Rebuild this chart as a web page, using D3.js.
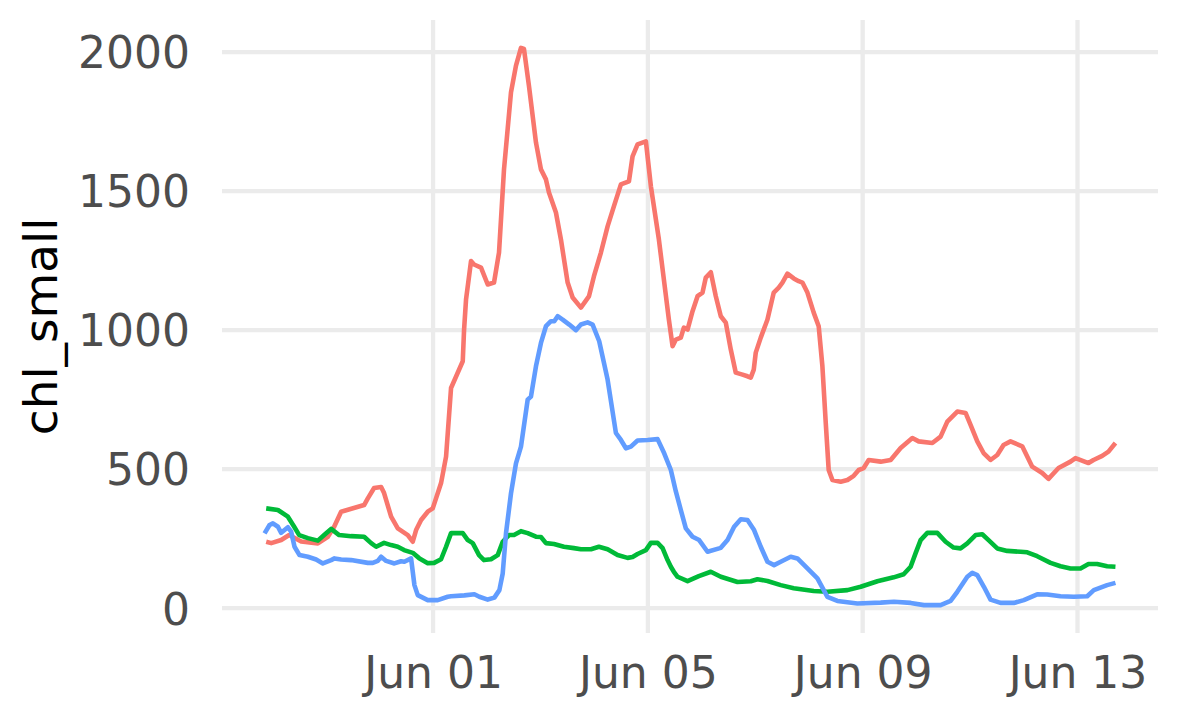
<!DOCTYPE html>
<html>
<head>
<meta charset="utf-8">
<script src="https://cdn.jsdelivr.net/npm/d3@7"></script>
<style>
  html, body { margin: 0; padding: 0; background: #ffffff; }
  svg { display: block; font-family: "DejaVu Sans", sans-serif; }
</style>
</head>
<body>
<svg id="chart" width="1200" height="720"></svg>
<script>
// Time is given as days offset from Jun 01 (2021), value is chl_small.
const baseDate = Date.UTC(2021, 5, 1);

const redSeries = [
  [-3.107,239],[-3.014,234],[-2.828,245],[-2.679,263],[-2.456,240],[-2.145,233],[-1.959,257],
  [-1.842,293],[-1.712,347],[-1.284,371],[-1.215,395],[-1.098,432],[-0.967,436],[-0.912,414],
  [-0.781,329],[-0.657,287],[-0.471,263],[-0.378,239],[-0.316,281],[-0.223,317],[-0.099,347],
  [-0.006,359],[0.117,431],[0.149,450],[0.242,545],[0.335,792],[0.553,888],[0.577,1000],
  [0.614,1110],[0.707,1248],[0.763,1236],[0.893,1225],[1.018,1164],[1.135,1171],[1.228,1279],
  [1.321,1578],[1.451,1855],[1.544,1951],[1.637,2015],[1.693,2011],[1.786,1878],[1.916,1675],
  [2.009,1578],[2.102,1542],[2.158,1495],[2.288,1423],[2.381,1326],[2.506,1171],[2.599,1117],
  [2.753,1081],[2.902,1121],[2.995,1193],[3.126,1279],[3.250,1373],[3.367,1445],[3.498,1524],
  [3.647,1535],[3.715,1625],[3.808,1668],[3.963,1679],[4.056,1517],[4.205,1326],[4.298,1182],
  [4.391,1038],[4.460,942],[4.521,966],[4.614,973],[4.670,1009],[4.739,1002],[4.832,1068],
  [4.925,1122],[5.018,1135],[5.079,1189],[5.172,1208],[5.265,1122],[5.358,1050],[5.451,1027],
  [5.544,930],[5.637,847],[5.762,840],[5.855,834],[5.916,829],[5.972,858],[6.009,919],
  [6.102,973],[6.227,1038],[6.344,1135],[6.437,1153],[6.506,1171],[6.599,1203],[6.716,1186],
  [6.809,1176],[6.878,1171],[6.971,1135],[7.088,1063],[7.181,1014],[7.250,870],[7.312,667],
  [7.367,497],[7.436,461],[7.591,455],[7.716,461],[7.833,476],[7.926,497],[8.019,504],
  [8.112,533],[8.335,527],[8.521,533],[8.707,576],[8.925,612],[9.042,600],[9.297,594],
  [9.451,617],[9.576,671],[9.762,707],[9.916,702],[10.009,659],[10.134,600],[10.251,558],
  [10.381,533],[10.506,551],[10.623,587],[10.753,600],[10.971,582],[11.157,509],[11.343,486],
  [11.460,465],[11.647,504],[11.870,527],[11.963,540],[12.205,522],[12.298,533],[12.460,548],
  [12.577,563],[12.707,594]
];

const greenSeries = [
  [-3.107,359],[-2.889,353],[-2.703,329],[-2.586,293],[-2.493,263],[-2.331,252],[-2.145,243],
  [-2.028,263],[-1.898,285],[-1.749,263],[-1.526,259],[-1.284,257],[-1.153,234],[-1.060,221],
  [-0.912,235],[-0.781,227],[-0.657,221],[-0.540,209],[-0.378,199],[-0.260,180],[-0.099,162],
  [0.019,163],[0.149,176],[0.242,221],[0.335,270],[0.553,270],[0.646,245],[0.739,234],
  [0.856,191],[0.949,173],[1.079,176],[1.204,191],[1.297,239],[1.414,263],[1.507,263],
  [1.637,277],[1.762,270],[1.916,257],[2.009,256],[2.102,234],[2.251,231],[2.437,221],
  [2.623,216],[2.753,212],[2.940,212],[3.088,221],[3.250,212],[3.436,191],[3.622,181],
  [3.715,184],[3.808,195],[3.963,209],[4.056,235],[4.181,235],[4.274,216],[4.367,173],
  [4.428,149],[4.484,131],[4.553,113],[4.739,97],[4.949,115],[5.172,131],[5.358,113],
  [5.669,94],[5.916,97],[6.040,104],[6.227,98],[6.474,83],[6.716,72],[7.088,62],[7.343,59],
  [7.716,65],[7.963,77],[8.274,97],[8.577,111],[8.763,122],[8.893,149],[8.986,198],[9.079,245],
  [9.204,271],[9.390,271],[9.544,239],[9.693,218],[9.823,215],[9.948,233],[10.102,263],
  [10.227,266],[10.344,245],[10.506,215],[10.692,206],[10.940,203],[11.064,201],[11.250,187],
  [11.498,163],[11.684,151],[11.870,143],[12.056,143],[12.205,159],[12.366,159],[12.552,151],
  [12.707,149]
];

const blueSeries = [
  [-3.138,269],[-3.045,299],[-2.982,305],[-2.889,293],[-2.828,271],[-2.766,281],[-2.703,291],
  [-2.642,275],[-2.580,221],[-2.487,191],[-2.331,185],[-2.177,175],[-2.052,161],[-1.898,173],
  [-1.836,179],[-1.712,175],[-1.526,173],[-1.215,163],[-1.122,163],[-1.029,170],[-0.967,185],
  [-0.874,170],[-0.720,161],[-0.595,169],[-0.534,167],[-0.409,179],[-0.347,83],[-0.285,47],
  [-0.099,29],[0.087,29],[0.273,41],[0.335,43],[0.583,46],[0.769,50],[0.862,41],[1.018,31],
  [1.142,38],[1.235,65],[1.297,125],[1.358,269],[1.451,413],[1.544,521],[1.637,581],[1.762,750],
  [1.823,761],[1.916,870],[2.009,954],[2.102,1014],[2.195,1032],[2.257,1032],[2.320,1050],
  [2.413,1038],[2.536,1020],[2.660,1000],[2.753,1020],[2.878,1028],[2.971,1020],[3.094,960],
  [3.250,822],[3.405,630],[3.498,605],[3.591,575],[3.684,581],[3.808,603],[3.994,605],
  [4.181,608],[4.304,557],[4.428,497],[4.521,420],[4.614,353],[4.707,287],[4.832,257],
  [4.955,245],[5.111,203],[5.358,217],[5.483,245],[5.606,293],[5.730,320],[5.855,317],
  [5.978,281],[6.102,221],[6.227,167],[6.350,155],[6.474,167],[6.660,185],[6.785,179],
  [6.971,143],[7.157,107],[7.343,41],[7.529,26],[7.901,17],[8.335,20],[8.583,23],[8.893,19],
  [9.141,11],[9.451,11],[9.637,26],[9.762,59],[9.948,113],[10.041,127],[10.134,119],
  [10.257,77],[10.381,31],[10.567,19],[10.815,19],[11.001,29],[11.250,50],[11.436,49],
  [11.684,43],[11.932,41],[12.181,43],[12.304,65],[12.552,83],[12.707,91]
];

const seriesList = [
  { name: "red", color: "#F8766D", pts: redSeries },
  { name: "green", color: "#00BA38", pts: greenSeries },
  { name: "blue", color: "#619CFF", pts: blueSeries }
];

const yTicks = [0, 500, 1000, 1500, 2000];
const xTickDays = [0, 4, 8, 12];
const yTitle = "chl_small";

const toDate = d => new Date(baseDate + d * 86400000);

const svg = d3.select("#chart");
const panel = { left: 222, right: 1158, top: 20, bottom: 633 };

// ggplot-like 5% expansion of data ranges
const allPts = seriesList.flatMap(s => s.pts);
const xExt = d3.extent(allPts, p => p[0]);
const yExt = d3.extent(allPts, p => p[1]);
const xPad = (xExt[1] - xExt[0]) * 0.05;
const yPad = (yExt[1] - yExt[0]) * 0.05;

const x = d3.scaleUtc()
  .domain([toDate(xExt[0] - xPad), toDate(xExt[1] + xPad)])
  .range([panel.left, panel.right]);
const y = d3.scaleLinear()
  .domain([yExt[0] - yPad, yExt[1] + yPad])
  .range([panel.bottom, panel.top]);

// gridlines
const grid = svg.append("g");
grid.selectAll("line.h").data(yTicks).enter().append("line")
  .attr("x1", panel.left).attr("x2", panel.right)
  .attr("y1", d => y(d)).attr("y2", d => y(d))
  .attr("stroke", "#EBEBEB").attr("stroke-width", 4.3);
grid.selectAll("line.v").data(xTickDays).enter().append("line")
  .attr("y1", panel.top).attr("y2", panel.bottom)
  .attr("x1", d => x(toDate(d))).attr("x2", d => x(toDate(d)))
  .attr("stroke", "#EBEBEB").attr("stroke-width", 4.3);

// lines
const line = d3.line()
  .x(p => x(toDate(p[0])))
  .y(p => y(p[1]))
  .curve(d3.curveLinear);

svg.append("g").selectAll("path").data(seriesList).enter().append("path")
  .attr("d", s => line(s.pts))
  .attr("fill", "none")
  .attr("stroke", s => s.color)
  .attr("stroke-width", 4.6)
  .attr("stroke-linejoin", "round")
  .attr("stroke-linecap", "butt");

// y axis labels
const yAxis = d3.axisLeft(y).tickValues(yTicks).tickFormat(d3.format("d")).tickSize(0).tickPadding(0);
const yg = svg.append("g").attr("transform", `translate(190,0)`).call(yAxis);
yg.select(".domain").remove();
yg.selectAll("text")
  .attr("fill", "#4D4D4D")
  .attr("font-size", 44)
  .attr("font-family", "DejaVu Sans")
  .attr("x", 0)
  .attr("dy", "0.36em");

// x axis labels
const fmt = d3.utcFormat("%b %d");
const xAxis = d3.axisBottom(x).tickValues(xTickDays.map(toDate)).tickFormat(fmt).tickSize(0).tickPadding(0);
const xg = svg.append("g").attr("transform", `translate(0,656)`).call(xAxis);
xg.select(".domain").remove();
xg.selectAll("text")
  .attr("fill", "#4D4D4D")
  .attr("font-size", 44)
  .attr("font-family", "DejaVu Sans")
  .attr("y", 0)
  .attr("dy", "0.73em");

// y title
svg.append("text")
  .attr("transform", `translate(57,${(panel.top + panel.bottom) / 2}) rotate(-90)`)
  .attr("text-anchor", "middle")
  .attr("font-size", 47)
  .attr("font-family", "DejaVu Sans")
  .attr("fill", "#000000")
  .text(yTitle);
</script>
</body>
</html>
